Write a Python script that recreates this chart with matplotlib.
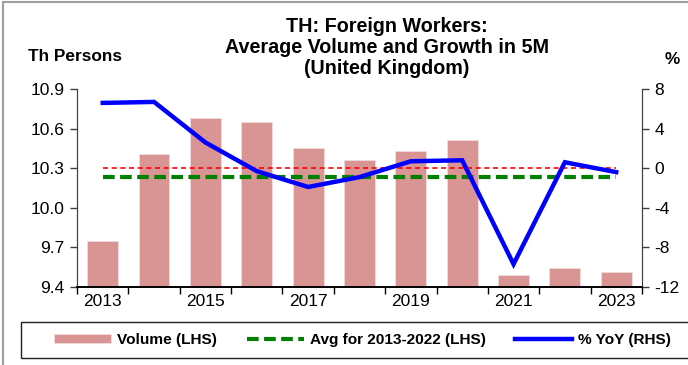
import matplotlib.pyplot as plt
from matplotlib.patches import Rectangle
import numpy as np

plt.rcParams['font.family'] = ['Liberation Sans', 'DejaVu Sans']
plt.rcParams['axes.unicode_minus'] = False

years = [2013, 2014, 2015, 2016, 2017, 2018, 2019, 2020, 2021, 2022, 2023]
volume = [9.75, 10.41, 10.68, 10.65, 10.45, 10.36, 10.43, 10.51, 9.49, 9.54, 9.51]   # Th persons
yoy = [6.6, 6.7, 2.6, -0.3, -1.9, -0.9, 0.7, 0.8, -9.7, 0.6, -0.4]                 # % YoY
avg_2013_2022 = 10.23

x = np.arange(len(years))

fig = plt.figure(figsize=(6.88, 3.65), dpi=100)
ax = fig.add_axes([0.112, 0.214, 0.821, 0.542])
ax2 = ax.twinx()

bars = ax.bar(x, volume, width=0.6, color='#D99594', edgecolor='#F2DCDB', linewidth=0.6,
              zorder=2)
avg_line, = ax.plot([x[0], x[-1]], [avg_2013_2022] * 2, color='#008000', lw=3.0,
                    dashes=(2.8, 1.3), zorder=3)
ax2.plot([x[0], x[-1]], [0, 0], color='red', lw=1.2, dashes=(3, 2.2), zorder=3)
yoy_line, = ax2.plot(x, yoy, color='#0000FF', lw=3.2, solid_joinstyle='miter', zorder=4)

ax.set_xlim(-0.5, len(years) - 0.5)
ax.set_ylim(9.4, 10.9)
ax.set_yticks([9.4, 9.7, 10.0, 10.3, 10.6, 10.9])
ax.set_yticklabels(['9.4', '9.7', '10.0', '10.3', '10.6', '10.9'])
ax2.set_ylim(-12, 8)
ax2.set_yticks([-12, -8, -4, 0, 4, 8])

ax.set_xticks(x[::2])
ax.set_xticklabels([str(y) for y in years[::2]])
ax.set_xticks(np.arange(-0.5, len(years), 1.0), minor=True)
ax.tick_params(axis='x', which='major', length=0, pad=5, labelsize=12.5)
ax.tick_params(axis='x', which='minor', length=5, direction='out', width=1)
ax.tick_params(axis='y', length=5, width=1, color='#404040', labelsize=12.5, pad=4)
ax2.tick_params(axis='y', length=5, width=1, color='#404040', labelsize=12.5, pad=4)

for a in (ax, ax2):
    a.spines['top'].set_visible(False)
    a.spines['left'].set_color('#404040')
    a.spines['right'].set_color('#404040')
    a.spines['bottom'].set_color('black')
    a.spines['bottom'].set_linewidth(1.2)

fig.text(0.562, 0.953, 'TH: Foreign Workers:\nAverage Volume and Growth in 5M\n(United Kingdom)',
         ha='center', va='top', fontsize=14.2, fontweight='bold', linespacing=1.12)
fig.text(0.041, 0.844, 'Th Persons', ha='left', va='center', fontsize=12.4, fontweight='bold')
fig.text(0.966, 0.836, '%', ha='left', va='center', fontsize=12.4, fontweight='bold')

fig.legend([bars, avg_line, yoy_line],
           ['Volume (LHS)', 'Avg for 2013-2022 (LHS)', '% YoY (RHS)'],
           loc='center', bbox_to_anchor=(0.527, 0.068),
           ncol=3, frameon=False, handlelength=3.7, handleheight=0.5,
           columnspacing=1.9, prop={'weight': 'bold', 'size': 11.1},
           handletextpad=0.4)

# legend box and outer frame
fig.add_artist(Rectangle((21 / 688, 7 / 365), 1.2, 36 / 365, transform=fig.transFigure,
                         fill=False, edgecolor='#202020', linewidth=1.0))
fig.add_artist(Rectangle((0.004, -0.01), 1.2, 1.004, transform=fig.transFigure,
                         fill=False, edgecolor='#A0A0A0', linewidth=1.5))

fig.savefig('out.png', dpi=100)
